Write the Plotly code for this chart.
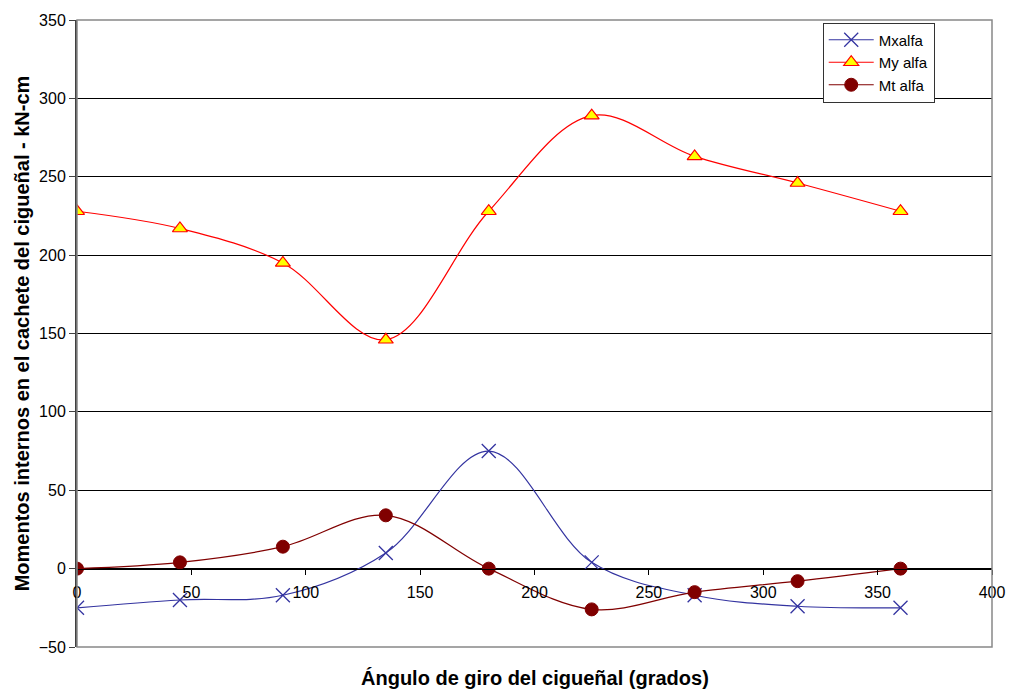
import plotly.graph_objects as go

angulo = [0, 45, 90, 135, 180, 225, 270, 315, 360]
mx_alfa = [-25, -20, -17, 10, 75, 4, -17, -24, -25]
my_alfa = [228, 217, 195, 146, 228, 289, 263, 246, 228]
mt_alfa = [0, 4, 14, 34, 0, -26, -15, -8, 0]

FONT = "Liberation Sans, Arial, sans-serif"

fig = go.Figure()
fig.add_trace(go.Scatter(
    x=angulo, y=mx_alfa, name="Mxalfa", mode="lines+markers",
    line=dict(color="#3333a0", width=1.2, shape="spline", smoothing=1.0),
    marker=dict(symbol="x-thin", size=14, line=dict(color="#3333a0", width=1.3)),
))
fig.add_trace(go.Scatter(
    x=angulo, y=my_alfa, name="My alfa", mode="lines+markers",
    line=dict(color="#ff0000", width=1.2, shape="spline", smoothing=1.0),
    marker=dict(symbol="triangle-up", size=13, color="#ffff00",
                line=dict(color="#ff0000", width=1.2)),
))
fig.add_trace(go.Scatter(
    x=angulo, y=mt_alfa, name="Mt alfa", mode="lines+markers",
    line=dict(color="#800000", width=1.2, shape="spline", smoothing=1.0),
    marker=dict(symbol="circle", size=13, color="#800000",
                line=dict(color="#800000", width=1)),
))

fig.update_layout(
    width=1017, height=695,
    margin=dict(l=77, r=20, t=15, b=48),
    paper_bgcolor="white", plot_bgcolor="white",
    font=dict(family=FONT, size=16, color="black"),
    showlegend=True,
    legend=dict(
        x=0.815, y=0.996, xanchor="left", yanchor="top",
        bgcolor="white", bordercolor="#333333", borderwidth=1,
        font=dict(family=FONT, size=15, color="black"),
        tracegroupgap=2, itemwidth=45,
    ),
    xaxis=dict(
        range=[0, 400], tickvals=[0, 50, 100, 150, 200, 250, 300, 350, 400],
        anchor="free", position=0.125,
        showgrid=False, zeroline=False,
        showline=True, linecolor="black", linewidth=1,
        ticks="outside", ticklen=5, tickcolor="black",
        ticklabelstandoff=4,
        tickfont=dict(family=FONT, size=16, color="black"),
    ),
    yaxis=dict(
        range=[-50, 350], tickvals=[-50, 0, 50, 100, 150, 200, 250, 300, 350],
        showgrid=True, gridcolor="black", gridwidth=1,
        zeroline=False,
        showline=True, linecolor="#404040", linewidth=2,
        ticks="outside", ticklen=6, tickcolor="#404040",
        tickfont=dict(family=FONT, size=16, color="black"),
        title=dict(text="<b>Momentos internos en el cachete del cigueñal - kN-cm</b>",
                   font=dict(family=FONT, size=20, color="black"), standoff=4),
    ),
    shapes=[dict(type="rect", xref="paper", yref="paper", x0=0, y0=0, x1=1, y1=1,
                 line=dict(color="#888888", width=1.5), layer="above")],
    annotations=[dict(text="<b>Ángulo de giro del cigueñal (grados)</b>",
                      xref="paper", yref="paper", x=0.5, y=-0.05,
                      xanchor="center", yanchor="middle", showarrow=False,
                      font=dict(family=FONT, size=20, color="black"))],
)

fig.write_html("out.html")
